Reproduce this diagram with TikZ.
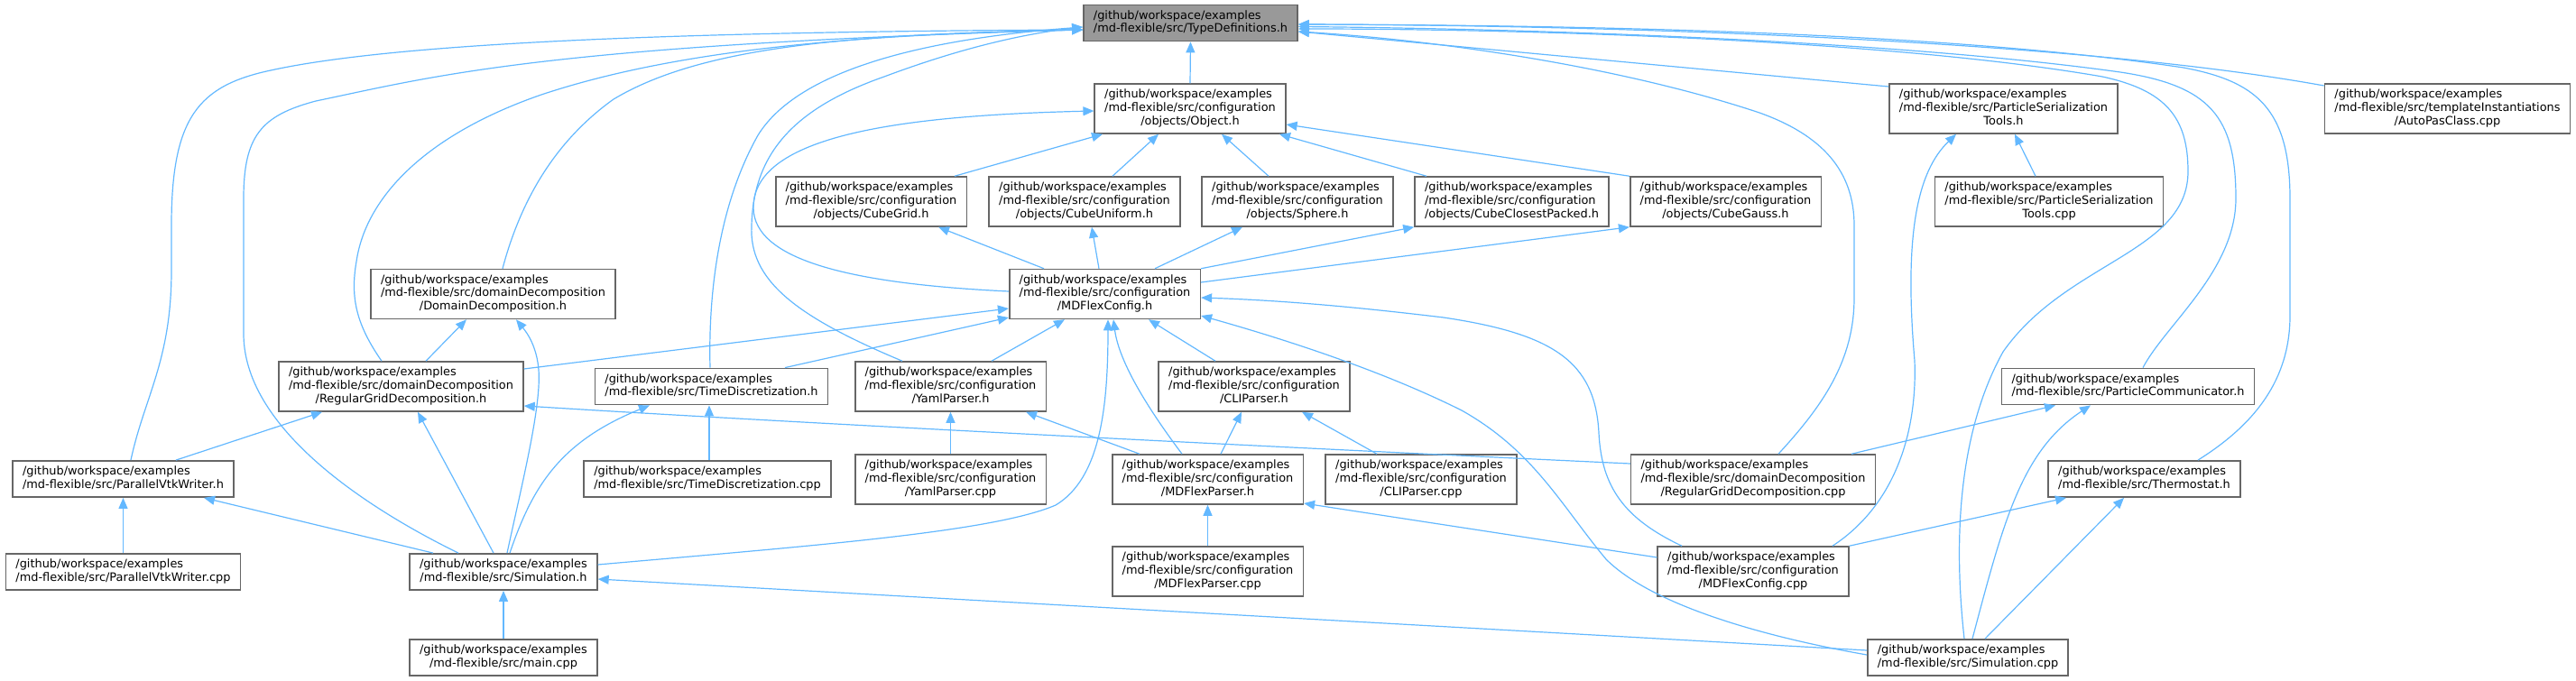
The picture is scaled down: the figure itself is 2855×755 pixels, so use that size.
\documentclass[tikz,border=0pt]{standalone}
\usepackage{fontspec}
\setmainfont{DejaVu Sans}
\usetikzlibrary{arrows.meta}
\definecolor{edgeblue}{HTML}{63B8FF}
\definecolor{boxgray}{HTML}{666666}
\definecolor{rootgray}{HTML}{999999}
\newcommand{\gw}{/github/workspace/examples}
\newcommand{\ftwo}[2]{\begin{tabular}{@{}l@{}}#1\\\multicolumn{1}{@{}c@{}}{#2}\end{tabular}}
\newcommand{\fthree}[3]{\begin{tabular}{@{}l@{}}#1\\#2\\\multicolumn{1}{@{}c@{}}{#3}\end{tabular}}
\begin{document}
\begin{tikzpicture}[x=0.5pt,y=-0.5pt,
  file/.style={draw=boxgray,line width=0.8pt,fill=white,inner xsep=5.5pt,inner ysep=2.7pt,
    font=\fontsize{6.45}{7.35}\selectfont},
  root/.style={file,fill=rootgray},
  incl/.style={draw=edgeblue,line width=0.6pt,-{Triangle[length=6pt,width=5pt]}}]
\useasboundingbox (0,0) rectangle (2855,755);
% files
\node[root] (typedef) at (1319.5,25.5) {\ftwo{\gw}{/md-flexible/src/TypeDefinitions.h}};
\node[file] (object) at (1319,120.5) {\fthree{\gw}{/md-flexible/src/configuration}{/objects/Object.h}};
\node[file] (pstoolsh) at (2220.5,120.5) {\fthree{\gw}{/md-flexible/src/ParticleSerialization}{Tools.h}};
\node[file] (autopas) at (2712.5,120.5) {\fthree{\gw}{/md-flexible/src/templateInstantiations}{/AutoPasClass.cpp}};
\node[file] (cubegrid) at (965.5,223.5) {\fthree{\gw}{/md-flexible/src/configuration}{/objects/CubeGrid.h}};
\node[file] (cubeuni) at (1202,223.5) {\fthree{\gw}{/md-flexible/src/configuration}{/objects/CubeUniform.h}};
\node[file] (sphere) at (1438,223.5) {\fthree{\gw}{/md-flexible/src/configuration}{/objects/Sphere.h}};
\node[file] (cubeclose) at (1675.5,223.5) {\fthree{\gw}{/md-flexible/src/configuration}{/objects/CubeClosestPacked.h}};
\node[file] (cubegauss) at (1912.5,223.5) {\fthree{\gw}{/md-flexible/src/configuration}{/objects/CubeGauss.h}};
\node[file] (pstoolscpp) at (2271,223.5) {\fthree{\gw}{/md-flexible/src/ParticleSerialization}{Tools.cpp}};
\node[file] (ddh) at (546.5,326) {\fthree{\gw}{/md-flexible/src/domainDecomposition}{/DomainDecomposition.h}};
\node[file] (config) at (1224.5,326) {\fthree{\gw}{/md-flexible/src/configuration}{/MDFlexConfig.h}};
\node[file] (rgdh) at (444.5,428.5) {\fthree{\gw}{/md-flexible/src/domainDecomposition}{/RegularGridDecomposition.h}};
\node[file] (timeh) at (788.5,428.5) {\ftwo{\gw}{/md-flexible/src/TimeDiscretization.h}};
\node[file] (yamlh) at (1053.5,428.5) {\fthree{\gw}{/md-flexible/src/configuration}{/YamlParser.h}};
\node[file] (clih) at (1390,428.5) {\fthree{\gw}{/md-flexible/src/configuration}{/CLIParser.h}};
\node[file] (pch) at (2358.5,428.5) {\ftwo{\gw}{/md-flexible/src/ParticleCommunicator.h}};
\node[file] (pvwh) at (136.5,531) {\ftwo{\gw}{/md-flexible/src/ParallelVtkWriter.h}};
\node[file] (timecpp) at (784,531) {\ftwo{\gw}{/md-flexible/src/TimeDiscretization.cpp}};
\node[file] (yamlcpp) at (1053.5,531.5) {\fthree{\gw}{/md-flexible/src/configuration}{/YamlParser.cpp}};
\node[file] (parserh) at (1338.5,531.5) {\fthree{\gw}{/md-flexible/src/configuration}{/MDFlexParser.h}};
\node[file] (clicpp) at (1575,531.5) {\fthree{\gw}{/md-flexible/src/configuration}{/CLIParser.cpp}};
\node[file] (rgdcpp) at (1943,531.5) {\fthree{\gw}{/md-flexible/src/domainDecomposition}{/RegularGridDecomposition.cpp}};
\node[file] (thermo) at (2376.5,531) {\ftwo{\gw}{/md-flexible/src/Thermostat.h}};
\node[file] (pvwcpp) at (136.5,634) {\ftwo{\gw}{/md-flexible/src/ParallelVtkWriter.cpp}};
\node[file] (simh) at (558,634) {\ftwo{\gw}{/md-flexible/src/Simulation.h}};
\node[file] (parsercpp) at (1338.5,633.5) {\fthree{\gw}{/md-flexible/src/configuration}{/MDFlexParser.cpp}};
\node[file] (configcpp) at (1943,633.5) {\fthree{\gw}{/md-flexible/src/configuration}{/MDFlexConfig.cpp}};
\node[file] (main) at (558,729) {\ftwo{\gw}{/md-flexible/src/main.cpp}};
\node[file] (simcpp) at (2181,729) {\ftwo{\gw}{/md-flexible/src/Simulation.cpp}};
% includes of TypeDefinitions.h
\draw[incl] (object.north) -- (typedef.south);
\draw[incl] ([xshift=4.25pt]pvwh.north) .. controls (160,440) and (190,400) .. (190,300) -- (190,250) .. controls (190,130) and (220,95) .. (300,78) .. controls (450,45) and (800,35) .. ([yshift=-3.75pt]typedef.west);
\draw[incl] ([xshift=-25pt]simh.north) .. controls (420,570) and (270,480) .. (270,370) -- (270,220) .. controls (270,150) and (290,128) .. (350,112) .. controls (480,85) and (600,50) .. ([yshift=-3.75pt]typedef.west);
\draw[incl] ([xshift=-10.75pt]rgdh.north) .. controls (395,360) and (388,330) .. (395,290) .. controls (405,220) and (470,150) .. (600,105) .. controls (750,55) and (950,38) .. ([yshift=-3.75pt]typedef.west);
\draw[incl] ([xshift=5.25pt]ddh.north) .. controls (575,230) and (610,160) .. (680,110) .. controls (780,50) and (950,38) .. ([yshift=-3.75pt]typedef.west);
\draw[incl] ([xshift=-0.75pt]timeh.north) .. controls (785,330) and (795,230) .. (840,150) .. controls (880,85) and (1000,45) .. ([yshift=-2.25pt]typedef.west);
\draw[incl] ([xshift=-26.75pt]yamlh.north) .. controls (880,350) and (830,310) .. (833,250) .. controls (835,170) and (880,120) .. (980,85) .. controls (1060,55) and (1130,38) .. ([yshift=-2.25pt]typedef.west);
\draw[incl] ([yshift=12.25pt]pstoolsh.west) -- ([yshift=-4.75pt]typedef.east);
\draw[incl] ([yshift=12.75pt]autopas.west) .. controls (2300,45) and (1800,28) .. ([yshift=-0.75pt]typedef.east);
\draw[incl] ([xshift=14pt]rgdcpp.north) .. controls (2020,450) and (2055,400) .. (2055,330) -- (2055,250) .. controls (2055,190) and (2020,150) .. (1950,125) .. controls (1800,75) and (1600,45) .. ([yshift=-4.75pt]typedef.east);
\draw[incl] ([xshift=-2pt]simcpp.north) .. controls (2165,600) and (2170,480) .. (2220,390) .. controls (2290,290) and (2425,280) .. (2425,190) .. controls (2425,130) and (2400,100) .. (2330,85) .. controls (2100,45) and (1700,32) .. ([yshift=-3.25pt]typedef.east);
\draw[incl] ([xshift=8.25pt]pch.north) .. controls (2400,360) and (2478,300) .. (2478,220) .. controls (2478,130) and (2450,95) .. (2350,80) .. controls (2100,45) and (1700,32) .. ([yshift=-2pt]typedef.east);
\draw[incl] ([xshift=29.75pt]thermo.north) .. controls (2500,470) and (2538,420) .. (2538,350) -- (2538,220) .. controls (2538,120) and (2500,90) .. (2420,75) .. controls (2150,35) and (1750,28) .. ([yshift=-0.75pt]typedef.east);
% includes of Object.h
\draw[incl] ([xshift=46.25pt]cubegrid.north) -- ([xshift=-48.5pt]object.south);
\draw[incl] ([xshift=15.5pt]cubeuni.north) -- ([xshift=-17.5pt]object.south);
\draw[incl] ([xshift=-16pt]sphere.north) -- ([xshift=17.5pt]object.south);
\draw[incl] ([xshift=-47.25pt]cubeclose.north) -- ([xshift=49.5pt]object.south);
\draw[incl] (cubegauss.north west) -- ([yshift=-8.75pt]object.east);
\draw[incl] ([yshift=1.5pt]config.west) .. controls (950,315) and (835,290) .. (835,230) .. controls (835,150) and (1000,128) .. ([yshift=-1.25pt]object.west);
% includes of ParticleSerializationTools.h
\draw[incl] ([xshift=-7.5pt]pstoolscpp.north) -- ([xshift=6.25pt]pstoolsh.south);
\draw[incl] ([xshift=44pt]configcpp.north) .. controls (2100,560) and (2125,480) .. (2122,400) .. controls (2110,260) and (2125,190) .. ([xshift=-26.25pt]pstoolsh.south);
% includes of MDFlexConfig.h
\draw[incl] ([xshift=-33.75pt]config.north) -- ([xshift=37.25pt]cubegrid.south);
\draw[incl] ([xshift=-3.25pt]config.north) -- ([xshift=4pt]cubeuni.south);
\draw[incl] ([xshift=27.75pt]config.north) -- ([xshift=-30.5pt]sphere.south);
\draw[incl] (config.north east) -- (cubeclose.south west);
\draw[incl] ([yshift=6.5pt]config.east) -- (cubegauss.south west);
\draw[incl] ([yshift=9.75pt]rgdh.east) -- ([yshift=-8pt]config.west);
\draw[incl] ([xshift=40.75pt]timeh.north) -- ([yshift=-13pt]config.west);
\draw[incl] ([xshift=22.75pt]yamlh.north) -- ([xshift=-22.25pt]config.south);
\draw[incl] ([yshift=4pt]simh.east) .. controls (900,605) and (1100,590) .. (1170,560) .. controls (1220,530) and (1228,450) .. ([xshift=1.75pt]config.south);
\draw[incl] ([xshift=-14.25pt]parserh.north) .. controls (1270,450) and (1240,400) .. ([xshift=4.75pt]config.south);
\draw[incl] ([xshift=-21.5pt]clih.north) -- ([xshift=24.25pt]config.south);
\draw[incl] ([xshift=-39.5pt]configcpp.north) .. controls (1800,575) and (1775,540) .. (1772,480) .. controls (1768,400) and (1720,370) .. (1600,352) .. controls (1500,340) and (1420,333) .. ([yshift=-2pt]config.east);
\draw[incl] ([yshift=1.5pt]simcpp.west) .. controls (1950,705) and (1830,670) .. (1780,620) .. controls (1730,560) and (1700,500) .. (1620,455) .. controls (1530,410) and (1420,375) .. ([yshift=-12pt]config.east);
% includes of DomainDecomposition.h
\draw[incl] ([xshift=13.75pt]rgdh.north) -- ([xshift=-14.75pt]ddh.south);
\draw[incl] ([xshift=2pt]simh.north) .. controls (580,530) and (600,450) .. (597,410) .. controls (595,385) and (585,370) .. ([xshift=12.75pt]ddh.south);
% includes of RegularGridDecomposition.h
\draw[incl] ([xshift=29.25pt]pvwh.north) -- ([xshift=-43.75pt]rgdh.south);
\draw[incl] ([xshift=-5.5pt]simh.north) -- ([xshift=9.25pt]rgdh.south);
\draw[incl] ([yshift=8.75pt]rgdcpp.west) .. controls (1400,495) and (900,470) .. ([yshift=-10.75pt]rgdh.east);
% includes of TimeDiscretization.h
\draw[incl] ([xshift=3.5pt]simh.north) .. controls (590,540) and (620,490) .. ([xshift=-34.25pt]timeh.south);
\draw[incl] ([xshift=1pt]timecpp.north) -- ([xshift=-1.25pt]timeh.south);
% parsers
\draw[incl] (yamlcpp.north) -- (yamlh.south);
\draw[incl] ([xshift=-37.75pt]parserh.north) -- ([xshift=41.75pt]yamlh.south);
\draw[incl] ([xshift=7.25pt]parserh.north) -- ([xshift=-7pt]clih.south);
\draw[incl] ([xshift=-24.5pt]clicpp.north) -- ([xshift=26.5pt]clih.south);
\draw[incl] (parsercpp.north) -- (parserh.south);
\draw[incl] ([yshift=7.75pt]configcpp.west) -- ([yshift=-13.25pt]parserh.east);
% writer and simulation
\draw[incl] (pvwcpp.north) -- (pvwh.south);
\draw[incl] ([xshift=-39pt]simh.north) -- ([xshift=44.75pt]pvwh.south);
\draw[incl] (main.north) -- (simh.south);
\draw[incl] ([yshift=4pt]simcpp.west) -- ([yshift=-4pt]simh.east);
% communicator and thermostat
\draw[incl] ([xshift=54.5pt]rgdcpp.north) -- ([xshift=-40.25pt]pch.south);
\draw[incl] ([xshift=2.5pt]simcpp.north) .. controls (2220,580) and (2240,500) .. ([xshift=-20.75pt]pch.south);
\draw[incl] (configcpp.north east) -- ([xshift=-43.25pt]thermo.south);
\draw[incl] ([xshift=9.5pt]simcpp.north) -- ([xshift=-11.25pt]thermo.south);
\end{tikzpicture}
\end{document}
